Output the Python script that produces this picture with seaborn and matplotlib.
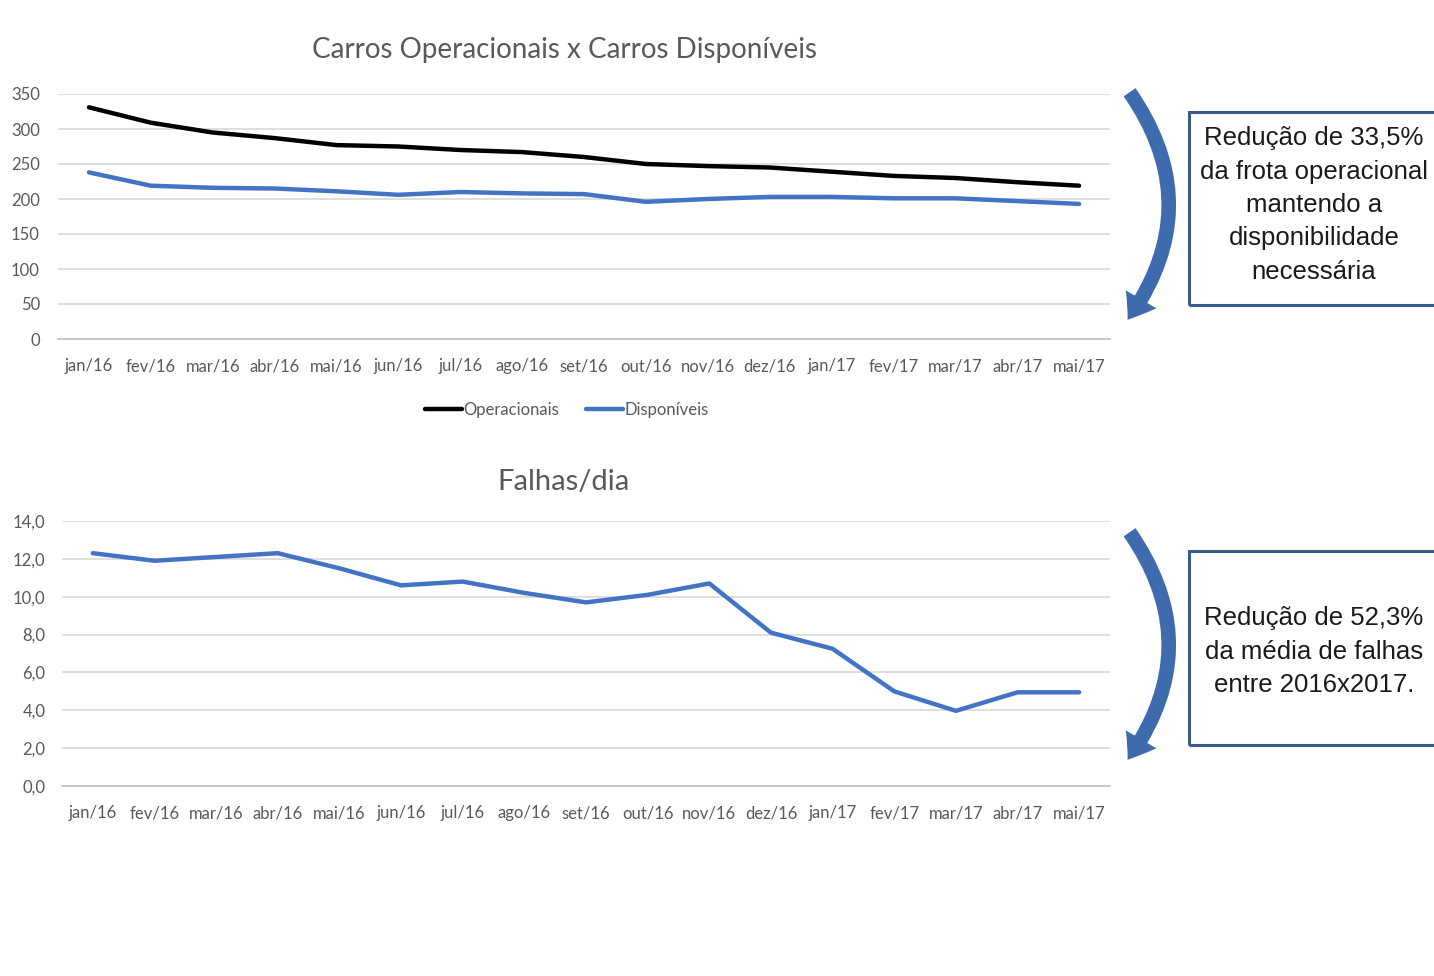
import matplotlib
matplotlib.use("Agg")
import matplotlib.pyplot as plt
from matplotlib.patches import Rectangle, FancyArrowPatch
from matplotlib.ticker import FixedLocator
from matplotlib.lines import Line2D
import numpy as np
import pandas as pd
import seaborn as sns

months = ["jan/16", "fev/16", "mar/16", "abr/16", "mai/16", "jun/16", "jul/16",
          "ago/16", "set/16", "out/16", "nov/16", "dez/16", "jan/17", "fev/17",
          "mar/17", "abr/17", "mai/17"]
operacionais = [331, 309, 295, 287, 277, 275, 270, 267, 260, 250, 247, 245, 239, 233, 230, 224, 219]
disponiveis = [238, 219, 216, 215, 211, 206, 210, 208, 207, 196, 200, 203, 203, 201, 201, 197, 193]
falhas = [12.3, 11.9, 12.1, 12.3, 11.5, 10.6, 10.8, 10.2, 9.7, 10.1, 10.7, 8.1, 7.25, 5.0, 3.97, 4.95, 4.95]

title_top = "Carros Operacionais x Carros Disponíveis"
title_bottom = "Falhas/dia"
series_names = ["Operacionais", "Disponíveis"]
note_top = "Redução de 33,5%\nda frota operacional\nmantendo a\ndisponibilidade\nnecessária"
note_bottom = "Redução de 52,3%\nda média de falhas\nentre 2016x2017."

sns.set_theme(style="white")
plt.rcParams["font.family"] = ["Lato", "DejaVu Sans"]

W, H = 1434, 976
fig = plt.figure(figsize=(W / 100, H / 100), dpi=100)

def fx(px):
    return px / W

def fy(py):
    return 1 - py / H

GRAY = "#595959"
GRID = "#D9D9D9"
BLUE = "#4472C4"

idx = np.arange(len(months))
df_top = pd.DataFrame({
    "x": np.concatenate([idx, idx]),
    "valor": operacionais + disponiveis,
    "serie": [series_names[0]] * len(months) + [series_names[1]] * len(months),
})
df_bot = pd.DataFrame({"x": idx, "falhas": falhas})

def style_axis(ax, yticks, fmt, ypad):
    ax.set_xlim(-0.5, len(months) - 0.5)
    ax.set_xticks(idx)
    ax.set_xticklabels(months, fontsize=12, color=GRAY)
    ax.xaxis.set_minor_locator(FixedLocator(np.arange(-0.5, len(months), 1.0)))
    ax.tick_params(axis="x", which="major", length=0, pad=14)
    ax.tick_params(axis="x", which="minor", length=6, width=1, color="#BFBFBF", direction="out")
    ax.set_yticks(yticks)
    ax.set_yticklabels([fmt(v) for v in yticks], fontsize=12, color=GRAY)
    ax.tick_params(axis="y", length=0, pad=ypad)
    ax.set_ylim(yticks[0], yticks[-1])
    ax.yaxis.grid(True, color=GRID, linewidth=1.2)
    ax.xaxis.grid(False)
    for s in ["top", "right", "left"]:
        ax.spines[s].set_visible(False)
    ax.spines["bottom"].set_color("#BFBFBF")
    ax.spines["bottom"].set_linewidth(1.2)
    ax.set_xlabel("")
    ax.set_ylabel("")
    ax.set_axisbelow(True)

# Top chart
ax1 = fig.add_axes([fx(58), fy(339), fx(1110 - 58), fy(94) - fy(339)])
sns.lineplot(data=df_top, x="x", y="valor", hue="serie",
             palette={series_names[0]: "#000000", series_names[1]: BLUE},
             linewidth=3.2, ax=ax1, legend=False)
style_axis(ax1, list(range(0, 351, 50)), lambda v: f"{v}", 13)
ax1.set_title(title_top, fontsize=20, color=GRAY, pad=26, x=(564 - 58) / (1110 - 58))
handles = [Line2D([0], [0], color="#000000", lw=3.2), Line2D([0], [0], color=BLUE, lw=3.2)]
fig.legend(handles, series_names, loc="center", bbox_to_anchor=(fx(567), fy(410)),
           ncol=2, frameon=False, fontsize=12, labelcolor=GRAY, handlelength=2.2,
           handletextpad=0.1, columnspacing=1.6)

# Bottom chart
ax2 = fig.add_axes([fx(62), fy(786), fx(1110 - 62), fy(521) - fy(786)])
sns.lineplot(data=df_bot, x="x", y="falhas", color=BLUE, linewidth=3.2, ax=ax2)
style_axis(ax2, [0, 2, 4, 6, 8, 10, 12, 14], lambda v: f"{v:.1f}".replace(".", ","), 12)
ax2.set_title(title_bottom, fontsize=21, color=GRAY, pad=22, x=(564 - 62) / (1110 - 62))

# Notes with boxes and curved arrows
BOX = "#3B5A8C"
ARROW = "#3E6BAE"
note_font = ["Liberation Sans", "DejaVu Sans"]
for (top, bottom, text, ty, a0, a1) in [
    (112, 305, note_top, 205, 90, 322),
    (551, 745, note_bottom, 652, 530, 762),
]:
    rect = Rectangle((fx(1189), fy(bottom)), fx(1460 - 1189), fy(top) - fy(bottom),
                     transform=fig.transFigure, fill=False, edgecolor=BOX, linewidth=2.2)
    fig.add_artist(rect)
    fig.text(fx(1314), fy(ty), text, ha="center", va="center", fontsize=18.5,
             color="#1a1a1a", family=note_font, linespacing=1.5)
    arr = FancyArrowPatch((fx(1128), fy(a0)), (fx(1126), fy(a1)),
                          transform=fig.transFigure,
                          connectionstyle="arc3,rad=-0.36",
                          arrowstyle="simple,head_length=1.1,head_width=1.6,tail_width=0.65",
                          mutation_scale=16, color=ARROW, linewidth=0)
    fig.add_artist(arr)

fig.savefig("out.png", dpi=100, facecolor="white")
